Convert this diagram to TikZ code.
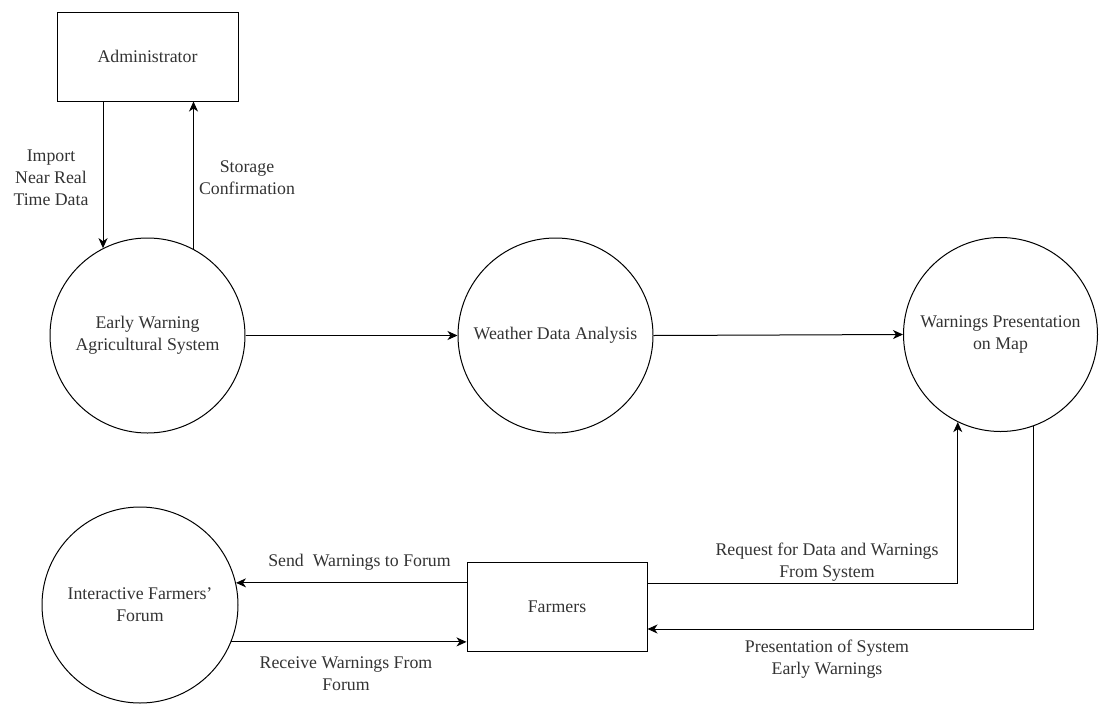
\documentclass[tikz,border=0pt]{standalone}
\usepackage{fontspec}
\setmainfont{Liberation Serif}
\usetikzlibrary{arrows.meta}

\tikzset{
  every node/.style={font=\fontsize{17.8}{22}\selectfont, text=black!80, align=center},
  entity/.style={draw, line width=1pt, rectangle, minimum width=181pt, minimum height=89pt, inner sep=0pt},
  process/.style={draw, line width=1pt, circle, minimum size=195pt, inner sep=0pt},
  flow/.style={line width=1pt, -{Stealth[length=10pt,width=9pt,inset=3pt]}},
  flowlabel/.style={inner sep=0pt}
}

\begin{document}
\begin{tikzpicture}[x=1pt,y=-1pt]
  \useasboundingbox (0,0) rectangle (1099,704);

  % external entities
  \node[entity] (admin) at (147.5,56.5) {Administrator};
  \node[entity, minimum width=180pt] (farmers) at (557,606.5) {Farmers};

  % processes
  \node[process] (ews) at (147.5,335.5) {Early Warning\\Agricultural System};
  \node[process] (wda) at (555.5,335.5) {Weather Data Analysis};
  \node[process, minimum size=194pt] (wpm) at (1000.5,334.5) {Warnings Presentation\\on Map};
  \node[process, minimum size=196pt] (forum) at (140,605) {Interactive Farmers'\\Forum};

  % data flows
  \draw[flow] (ews.117 |- admin.south) -- (ews.117);
  \draw[flow] (ews.62) -- (ews.62 |- admin.south);
  \draw[flow] (ews.east) -- (wda.west);
  \draw[flow] (wda.east) -- (wpm.west);
  \draw[flow] ([yshift=23.5pt]farmers.east) -| (wpm.244.7);
  \draw[flow] (wpm.-70.4) |- ([yshift=-22.5pt]farmers.east);
  \draw[flow] (farmers.west |- forum.13) -- (forum.13);
  \draw[flow] (forum.-22.2) -- (forum.-22.2 -| farmers.west);

  % flow labels
  \node[flowlabel] (limport) at (51,178) {Import\\Near Real\\Time Data};
  \node[flowlabel] (lstore) at (247,177.5) {Storage\\Confirmation};
  \node[flowlabel] (lsend) at (359.5,562) {Send\ \ Warnings to Forum};
  \node[flowlabel] (lrecv) at (346,674) {Receive Warnings From\\Forum};
  \node[flowlabel] (lreq) at (827,562) {Request for Data and Warnings\\From System};
  \node[flowlabel] (lpres) at (827,659) {Presentation of System\\Early Warnings};
\end{tikzpicture}
\end{document}
